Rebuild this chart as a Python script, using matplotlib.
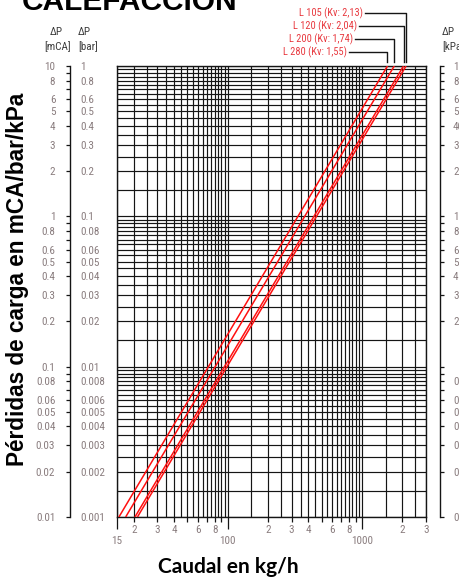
import matplotlib
matplotlib.use('Agg')
import matplotlib.pyplot as plt
from matplotlib import font_manager as fm
from matplotlib.lines import Line2D
import numpy as np

# ---------------- data ----------------
series_labels = ['L 105 (Kv: 2,13)', 'L 120 (Kv: 2,04)', 'L 200 (Kv: 1,74)', 'L 280 (Kv: 1,55)']
q_at_low = [21.3, 20.4, 17.4, 15.5]        # kg/h at dp_ends[0]
q_at_high = [2130, 2040, 1740, 1550]       # kg/h at dp_ends[1]
dp_ends = [0.01, 10]                        # mCA

x_major = [15, 100, 1000]
x_major_labels = ['15', '100', '1000']
x_minor = [20, 30, 40, 50, 60, 70, 80, 90,
           200, 300, 400, 500, 600, 700, 800, 900, 2000, 3000]
x_minor_labels = ['2', '3', '4', '', '6', '', '8', '',
                  '2', '3', '4', '', '6', '', '8', '', '2', '3']

y_ticks = [10, 9, 8, 7, 6, 5, 4, 3, 2,
           1, 0.9, 0.8, 0.7, 0.6, 0.5, 0.4, 0.3, 0.2,
           0.1, 0.09, 0.08, 0.07, 0.06, 0.05, 0.04, 0.03, 0.02, 0.01]
mca_labels = ['10', '', '8', '', '6', '5', '4', '3', '2',
              '1', '', '0.8', '', '0.6', '0.5', '0.4', '0.3', '0.2',
              '0.1', '', '0.08', '', '0.06', '0.05', '0.04', '0.03', '0.02', '0.01']
bar_labels = ['1', '', '0.8', '', '0.6', '0.5', '0.4', '0.3', '0.2',
              '0.1', '', '0.08', '', '0.06', '0.05', '0.04', '0.03', '0.02',
              '0.01', '', '0.008', '', '0.006', '0.005', '0.004', '0.003', '0.002', '0.001']
kpa_labels = ['100', '', '80', '', '60', '50', '40', '30', '20',
              '10', '', '8', '', '6', '5', '4', '3', '2',
              '', '', '0.8', '', '0.6', '0.5', '0.4', '0.3', '0.2', '0.1']

# grid positions (chart paper)
x_grid = list(np.arange(15, 100, 5)) + list(np.arange(100, 1000, 50)) + list(np.arange(1000, 3001, 500))
y_grid = (list(np.arange(0.01, 0.1, 0.005)) + list(np.arange(0.1, 1.0, 0.05))
          + list(np.arange(1.0, 10.01, 0.5)))

# ---------------- fonts ----------------
names = {f.name for f in fm.fontManager.ttflist}
def pick(cands, default='DejaVu Sans'):
    for c in cands:
        if c in names:
            return c
    return default

cond = pick(['Liberation Sans Narrow', 'Roboto Condensed', 'Open Sans Condensed'], None)
if cond is None:
    cond = 'DejaVu Sans'
    plt.rcParams['font.stretch'] = 'condensed'
plt.rcParams['font.family'] = [cond, 'DejaVu Sans']
bold_arial = pick(['Liberation Sans', 'Arial'])
bold_x = pick(['Lato', 'Open Sans', 'Liberation Sans'])

W, H = 459, 584
def fx(px): return px / W
def fy(py): return 1 - py / H

tick_col = '#8a7d7f'
hdr_col = '#3c3c3c'
red = '#ff1010'
lab_red = '#e8393f'
fs = 8.0

fig = plt.figure(figsize=(W / 100, H / 100), dpi=100)

top, bot = 66, 517
ax = fig.add_axes([fx(117), fy(bot), (426 - 117) / W, (bot - top) / H])
ax.set_xscale('log')
ax.set_yscale('log')
ax.set_xlim(15, 3000)
ax.set_ylim(0.01, 10)

for v in x_grid:
    ax.axvline(v, color='#151515', lw=0.85, zorder=1)
for v in y_grid:
    ax.axhline(v, color='#151515', lw=0.85, zorder=1)

for i in range(len(series_labels)):
    ax.plot([q_at_low[i], q_at_high[i]], dp_ends, color=red, lw=1.1, zorder=3,
            solid_capstyle='butt')

for s in ax.spines.values():
    s.set_color('#151515')
    s.set_linewidth(1.0)

ax.yaxis.set_major_locator(matplotlib.ticker.NullLocator())
ax.yaxis.set_minor_locator(matplotlib.ticker.NullLocator())
ax.set_xticks(x_major, x_major_labels)
ax.set_xticks(x_minor, x_minor_labels, minor=True)
ax.tick_params(axis='x', which='major', length=8.5, width=0.9, color='#151515',
               labelsize=fs, labelcolor=tick_col, pad=5.5)
ax.tick_params(axis='x', which='minor', length=3.5, width=0.9, color='#151515',
               labelsize=fs, labelcolor=tick_col, pad=2.0)

# ---- side axes ----
def side_axis(xpx):
    a = fig.add_axes([fx(xpx), fy(bot), 0.0001, (bot - top) / H])
    a.set_yscale('log')
    a.set_ylim(0.01, 10)
    a.set_xticks([])
    a.patch.set_visible(False)
    for s in a.spines.values():
        s.set_visible(False)
    a.yaxis.set_minor_locator(matplotlib.ticker.NullLocator())
    return a

axl = side_axis(70)
axl.spines['left'].set_visible(True)
axl.spines['left'].set_linewidth(1.0)
axl.spines['left'].set_color('#151515')
axl.set_yticks(y_ticks, mca_labels)
axl.yaxis.set_minor_locator(matplotlib.ticker.NullLocator())
axl.tick_params(axis='y', which='major', direction='out', length=2.6, width=0.9,
                color='#151515', labelsize=fs, labelcolor=tick_col, pad=8)

axb = side_axis(79)
axb.yaxis.tick_right()
axb.set_yticks(y_ticks, bar_labels)
axb.yaxis.set_minor_locator(matplotlib.ticker.NullLocator())
axb.tick_params(axis='y', which='major', length=0, labelsize=fs, labelcolor=tick_col, pad=1)

axr = side_axis(440)
axr.spines['right'].set_visible(True)
axr.spines['right'].set_linewidth(1.0)
axr.spines['right'].set_color('#151515')
axr.yaxis.tick_right()
axr.set_yticks(y_ticks, kpa_labels)
axr.yaxis.set_minor_locator(matplotlib.ticker.NullLocator())
axr.tick_params(axis='y', which='major', direction='out', length=2.8, width=0.9,
                color='#151515', labelsize=fs, labelcolor=tick_col, pad=6.5)

# headers
fig.text(fx(56), fy(32), 'ΔP', ha='center', va='center', fontsize=fs, color=hdr_col)
fig.text(fx(58), fy(47), '[mCA]', ha='center', va='center', fontsize=fs, color=hdr_col)
fig.text(fx(78), fy(32), 'ΔP', ha='left', va='center', fontsize=fs, color=hdr_col)
fig.text(fx(78), fy(47), '[bar]', ha='left', va='center', fontsize=fs, color=hdr_col)
fig.text(fx(442), fy(32), 'ΔP', ha='left', va='center', fontsize=fs, color=hdr_col)
fig.text(fx(442), fy(47), '[kPa]', ha='left', va='center', fontsize=fs, color=hdr_col)

# leader labels
lab_end_x = [363, 357, 353, 347]
lab_y = [13, 26, 39, 52]
fig.canvas.draw()
for i, lab in enumerate(series_labels):
    fig.text(fx(lab_end_x[i]), fy(lab_y[i]), lab, ha='right', va='center',
             fontsize=7.5, color=lab_red)
    xpix = ax.transData.transform((q_at_high[i], dp_ends[1]))[0]
    xe = xpix / W
    fig.add_artist(Line2D([fx(lab_end_x[i] + 2), xe, xe],
                          [fy(lab_y[i]), fy(lab_y[i]), fy(62)],
                          transform=fig.transFigure, color='#151515', lw=1.0))

# titles
fig.text(fx(22), fy(10), 'CALEFACCIÓN', ha='left', va='baseline', fontsize=21.5,
         fontweight='bold', family=[bold_arial, 'DejaVu Sans'], fontstretch='normal', color='black')
fig.text(fx(18), fy(279), 'Pérdidas de carga en mCA/bar/kPa', rotation=90, ha='center', va='center',
         fontsize=16.3, fontweight='bold', family=[bold_arial, 'DejaVu Sans'], fontstretch='normal',
         color='black')
fig.text(fx(228), fy(567), 'Caudal en kg/h', ha='center', va='center', fontsize=15,
         fontweight='bold', family=[bold_x, 'DejaVu Sans'], fontstretch='normal', color='black')

fig.savefig('out.png', dpi=100)
